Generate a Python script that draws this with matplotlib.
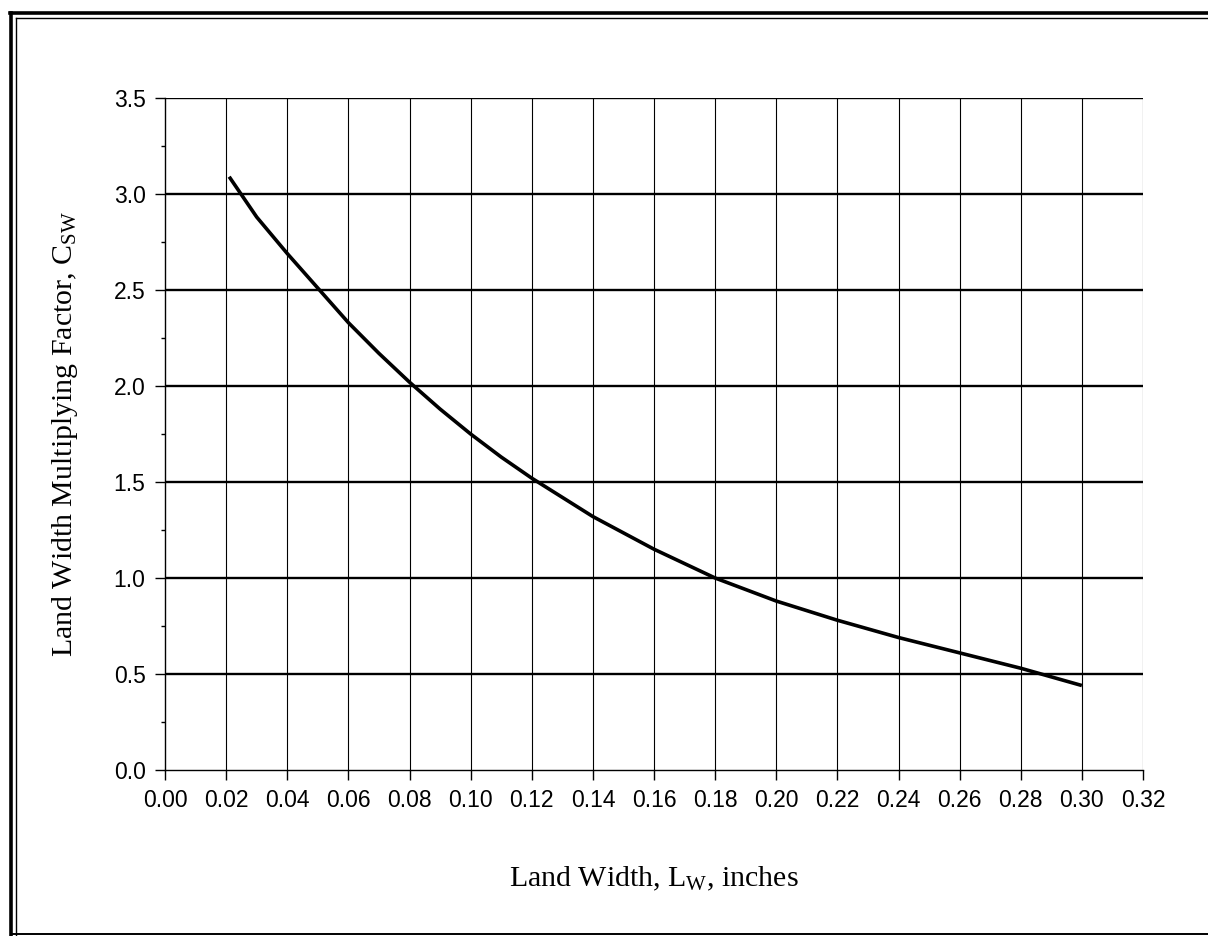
import matplotlib
matplotlib.use("Agg")
import matplotlib.pyplot as plt
from matplotlib.lines import Line2D
from matplotlib.ticker import MultipleLocator, FormatStrFormatter

# Land width (inches) and the corresponding multiplying factor C_SW
land_width = [0.021, 0.03, 0.04, 0.05, 0.06, 0.07, 0.08, 0.09, 0.10, 0.11, 0.12,
              0.14, 0.16, 0.18, 0.20, 0.22, 0.24, 0.26, 0.28, 0.30]
factor = [3.09, 2.88, 2.69, 2.51, 2.33, 2.17, 2.02, 1.88, 1.75, 1.63, 1.52,
          1.32, 1.15, 1.00, 0.88, 0.78, 0.69, 0.61, 0.53, 0.44]

x_ticks = [0.00, 0.02, 0.04, 0.06, 0.08, 0.10, 0.12, 0.14, 0.16,
           0.18, 0.20, 0.22, 0.24, 0.26, 0.28, 0.30, 0.32]
y_ticks = [0.0, 0.5, 1.0, 1.5, 2.0, 2.5, 3.0, 3.5]

plt.rcParams["mathtext.fontset"] = "custom"
plt.rcParams["mathtext.rm"] = "Liberation Serif"
plt.rcParams["mathtext.it"] = "Liberation Serif:italic"

W, H = 1208, 936
fig = plt.figure(figsize=(W / 100, H / 100), dpi=100)
fig.patch.set_facecolor("white")
ax = fig.add_axes([165 / W, 1 - 770 / H, (1143 - 165) / W, (770 - 98) / H])

ax.plot(land_width, factor, color="black", lw=2.6, solid_capstyle="butt")

ax.set_xlim(0, 0.32)
ax.set_ylim(0, 3.5)
ax.set_xticks(x_ticks)
ax.set_yticks(y_ticks)
ax.yaxis.set_minor_locator(MultipleLocator(0.25))
ax.xaxis.set_major_formatter(FormatStrFormatter("%.2f"))
ax.yaxis.set_major_formatter(FormatStrFormatter("%.1f"))

for v in x_ticks[1:]:
    ax.axvline(v, color="black", lw=0.8, zorder=1)
for v in y_ticks[1:]:
    ax.axhline(v, color="black", lw=1.7, zorder=1)

for s in ax.spines.values():
    s.set_linewidth(1.0)
    s.set_color("black")
ax.spines["top"].set_visible(False)
ax.spines["right"].set_visible(False)

ax.tick_params(axis="both", which="major", direction="out", length=7, width=1.0,
               colors="black", pad=7)
ax.tick_params(axis="y", which="minor", direction="out", length=3, width=1.0)
for lab in ax.get_xticklabels() + ax.get_yticklabels():
    lab.set_fontfamily("Liberation Sans")
    lab.set_fontsize(16.5)

ax.set_xlabel("Land Width, L$_{\\mathrm{W}}$, inches", family="Liberation Serif",
              fontsize=21.5, labelpad=38)
ax.set_ylabel("Land Width Multiplying Factor, C$_{\\mathrm{SW}}$",
              family="Liberation Serif", fontsize=21.5, labelpad=24)

# Page frame: double rule on top and left, single rule at the bottom
def frame_line(x0, y0, x1, y1, lw):
    fig.add_artist(Line2D([x0 / W, x1 / W], [1 - y0 / H, 1 - y1 / H],
                          transform=fig.transFigure, color="black", lw=lw))

frame_line(11, 13, 11, 936, 2.6)
frame_line(16, 18, 16, 936, 1.0)
frame_line(10, 13, W, 13, 2.6)
frame_line(16, 18, W, 18, 1.0)
frame_line(11, 934, W, 934, 1.4)

fig.savefig("out.png", dpi=100, facecolor="white")
